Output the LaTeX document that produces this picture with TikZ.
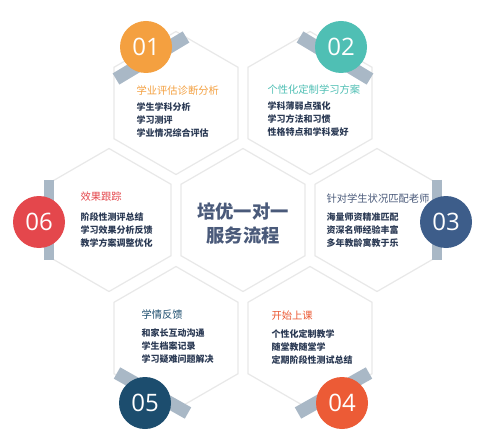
\documentclass[tikz,border=0pt]{standalone}
\usepackage{fontspec}
\setmainfont{Noto Sans CJK SC}
\newfontfamily\numfont{Open Sans}
\usetikzlibrary{shapes.geometric}

\definecolor{stepone}{HTML}{F4A040}
\definecolor{steptwo}{HTML}{4FBFB4}
\definecolor{stepthree}{HTML}{3D5D8A}
\definecolor{stepfour}{HTML}{EC5B36}
\definecolor{stepfive}{HTML}{1C4D6E}
\definecolor{stepsix}{HTML}{E4474C}
\definecolor{bandgray}{HTML}{A9B8C6}
\definecolor{titleblue}{HTML}{4A5A7A}
\definecolor{bodyblue}{HTML}{2C3B55}

\begin{document}
\begin{tikzpicture}[x=1pt,y=-1pt,
        hexbox/.style={
            regular polygon,
            regular polygon sides=6,
            shape border rotate=30,
            minimum size=143pt,
            inner sep=0pt,
            fill=white,
            draw=black!9,
            line width=1.2pt
        },
        band/.style={
            draw=bandgray,
            line width=13pt
        },
        numcirc/.style={
            circle,
            minimum size=52pt,
            inner sep=0pt,
            text=white,
            font=\numfont\fontsize{24}{24}\selectfont
        },
        headtext/.style={
            anchor=west,
            font=\fontsize{10.3}{12}\selectfont
        },
        bodytext/.style={
            anchor=west,
            align=left,
            text=bodyblue,
            font=\bfseries\fontsize{9}{13.2}\selectfont
        }
    ]

        \fill[white] (0,0) rectangle (486,430);
        \useasboundingbox (0,0) rectangle (486,430);

        % honeycomb
        \node[hexbox] (h1) at (176,103) {};
        \node[hexbox] (h2) at (310,103) {};
        \node[hexbox] (h6) at (109,220) {};
        \node[hexbox] (hc) at (243,220) {};
        \node[hexbox] (h3) at (377,220) {};
        \node[hexbox] (h5) at (176,338) {};
        \node[hexbox] (h4) at (310,338) {};

        % bands behind the numbers
        \draw[band] (116,79) -- (186,37);
        \draw[band] (370,79) -- (300,37);
        \draw[band, line width=10pt] (49,180) -- (49,260);
        \draw[band, line width=10pt] (437,180) -- (437,260);
        \draw[band] (117,373) -- (188,413);
        \draw[band] (369,373) -- (298,413);

        \node[numcirc, fill=stepone] (c1) at (146,47) {01};
        \node[numcirc, fill=steptwo] (c2) at (341,47) {02};
        \node[numcirc, fill=stepthree] (c3) at (446,222) {03};
        \node[numcirc, fill=stepfour] (c4) at (342,403) {04};
        \node[numcirc, fill=stepfive] (c5) at (145,403) {05};
        \node[numcirc, fill=stepsix] (c6) at (39,222) {06};

        \node[align=center, text=titleblue, font=\bfseries\fontsize{18.3}{24}\selectfont] (title) at (243,224) {培优一对一\\服务流程};

        \node[headtext, text=stepone] (t1) at (133,91) {学业评估诊断分析};
        \node[bodytext] (b1) at (133,120) {学生学科分析\\学习测评\\学业情况综合评估};

        \node[headtext, text=steptwo] (t2) at (264,90) {个性化定制学习方案};
        \node[bodytext] (b2) at (264,119) {学科薄弱点强化\\学习方法和习惯\\性格特点和学科爱好};

        \node[headtext, text=titleblue] (t3) at (323,199) {针对学生状况匹配老师};
        \node[bodytext] (b3) at (323,230) {海量师资精准匹配\\资深名师经验丰富\\多年教龄寓教于乐};

        \node[headtext, text=stepfour] (t4) at (268,316) {开始上课};
        \node[bodytext] (b4) at (268,347) {个性化定制教学\\随堂教随堂学\\定期阶段性测试总结};

        \node[headtext, text=stepfive] (t5) at (138,315) {学情反馈};
        \node[bodytext] (b5) at (138,346) {和家长互动沟通\\学生档案记录\\学习疑难问题解决};

        \node[headtext, text=stepsix] (t6) at (77,197) {效果跟踪};
        \node[bodytext] (b6) at (77,230) {阶段性测评总结\\学习效果分析反馈\\教学方案调整优化};

    \end{tikzpicture}
\end{document}
